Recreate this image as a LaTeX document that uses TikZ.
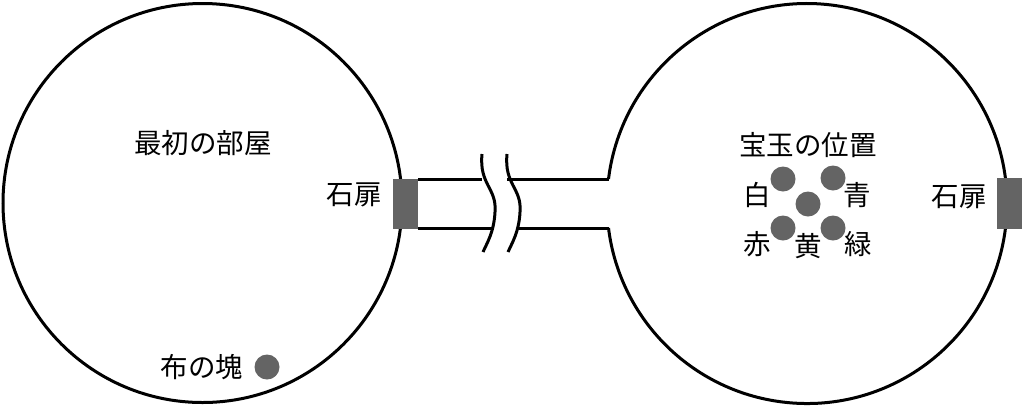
\documentclass[tikz,border=0pt]{standalone}
\usepackage{fontspec}
\newfontfamily\jp{Noto Sans CJK JP}
\definecolor{doorgray}{RGB}{100,100,100}
\tikzset{
  wall/.style={line width=3pt, draw=black},
  lbl/.style={font=\jp\fontsize{27.5}{27.5}\selectfont, inner sep=0pt, anchor=center},
  gem/.style={circle, fill=doorgray, minimum size=25pt, inner sep=0pt},
  door/.style={fill=doorgray, draw=none}
}
\begin{document}
\begin{tikzpicture}[x=1pt,y=-1pt]
\useasboundingbox (0,0) rectangle (1024,408);
% left room
\draw[wall] (202.5,203) circle (199.5pt);
% right room with opening
\draw[wall] (608.5,179) arc[start angle=-172.96, end angle=172.96, radius=200];
% corridor
\coordinate (lt1) at (418,179);
\coordinate (lb1) at (418,228);
\coordinate (rt1) at (608.5,179);
\coordinate (rb1) at (608.5,228);
\coordinate (b1t) at (482,154);
\coordinate (b1b) at (483,252);
\coordinate (b2t) at (507,154);
\coordinate (b2b) at (508,252);
\draw[wall] (lt1) -- (482,179);
\draw[wall] (lb1) -- (492,228);
\draw[wall] (507,179) -- (rt1);
\draw[wall] (517,228) -- (rb1);
% break marks
\draw[wall] (b1t) .. controls (479,185) and (497,188) .. (495,212) .. controls (494,232) and (487,243) .. (b1b);
\draw[wall] (b2t) .. controls (504,185) and (522,188) .. (520,212) .. controls (519,232) and (512,243) .. (b2b);
% doors
\fill[door] (393,179) rectangle (418,229);
\fill[door] (997,178) rectangle (1022,229);
% labels
\node[lbl] (room1) at (203,143) {最初の部屋};
\node[lbl] (door1) at (354,195) {石扉};
\node[lbl] (cloth) at (202,367) {布の塊};
\node[gem] (clothdot) at (267,367) {};
\node[lbl] (gems) at (808,145) {宝玉の位置};
\node[lbl] (door2) at (959,197) {石扉};
\node[gem] (g1) at (783,179) {};
\node[gem] (g2) at (833,178) {};
\node[gem] (g3) at (808,204) {};
\node[gem] (g4) at (783,228) {};
\node[gem] (g5) at (833,228) {};
\node[lbl] (white) at (757,195) {白};
\node[lbl] (blue) at (857,195) {青};
\node[lbl] (red) at (757,244) {赤};
\node[lbl] (yellow) at (808,246) {黄};
\node[lbl] (green) at (858,244) {緑};
\end{tikzpicture}
\end{document}
